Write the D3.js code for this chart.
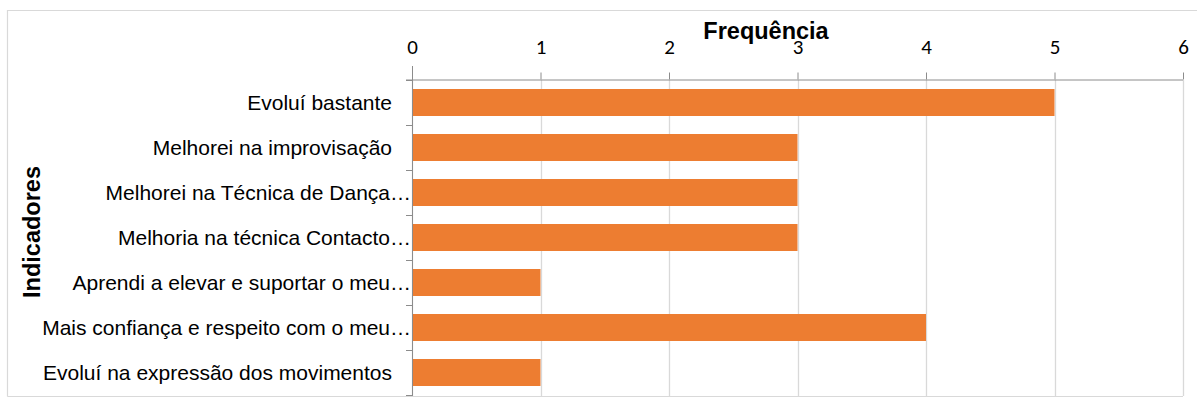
<!DOCTYPE html>
<html>
<head>
<meta charset="utf-8">
<script src="https://cdn.jsdelivr.net/npm/d3@7"></script>
<style>
  html, body { margin: 0; padding: 0; background: #fff; }
  svg { display: block; font-family: "Liberation Sans", Arial, sans-serif; }
</style>
</head>
<body>
<svg id="chart" width="1197" height="401"></svg>
<script>
// Indicators and how many times each was reported
const categories = [
  "Evoluí bastante",
  "Melhorei na improvisação",
  "Melhorei na Técnica de Dança…",
  "Melhoria na técnica Contacto…",
  "Aprendi a elevar e suportar o meu…",
  "Mais confiança e respeito com o meu…",
  "Evoluí na expressão dos movimentos"
];
const frequencies = [5, 3, 3, 3, 1, 4, 1];
const xTicks = [0, 1, 2, 3, 4, 5, 6];

const svg = d3.select("#chart");
const plotLeft = 412, plotRight = 1183, plotTop = 80, plotBottom = 395;

const x = d3.scaleLinear().domain([0, 6]).range([plotLeft, plotRight]);
const y = d3.scaleBand().domain(categories).range([plotTop, plotBottom]).paddingInner(0.4).paddingOuter(0.2);

// frame
svg.append("path")
  .attr("d", `M7.5,396.5 V10.5 H1197 M7.5,396.5 H${plotRight}`)
  .attr("fill", "none").attr("stroke", "#d9d9d9").attr("stroke-width", 1.2);

// vertical gridlines
svg.append("g").selectAll("line").data(xTicks).join("line")
  .attr("x1", d => Math.round(x(d)) + 0.5).attr("x2", d => Math.round(x(d)) + 0.5)
  .attr("y1", plotTop).attr("y2", plotBottom + 1)
  .attr("stroke", "#d9d9d9").attr("stroke-width", 1.3);

// bars
svg.append("g").selectAll("rect").data(categories).join("rect")
  .attr("x", x(0) + 1)
  .attr("y", d => y(d))
  .attr("width", (d, i) => x(frequencies[i]) - x(0) - 1)
  .attr("height", y.bandwidth())
  .attr("fill", "#ED7D31");

// top axis
const xAxis = svg.append("g").attr("transform", `translate(0,${plotTop - 0.5})`)
  .call(d3.axisTop(x).tickValues(xTicks).tickSize(7).tickPadding(19).tickFormat(d3.format("d")));
xAxis.select(".domain").attr("stroke", "#8c8c8c").attr("d", `M${plotLeft - 6},0.5H${plotRight}`);
xAxis.selectAll(".tick line").attr("stroke", "#8c8c8c");
xAxis.selectAll(".tick text").attr("font-size", 21).attr("fill", "#000")
  .attr("font-family", "Carlito, Lato, 'Liberation Sans', Arial, sans-serif");

// left axis with ticks at category boundaries
const boundaries = d3.range(categories.length + 1).map(i => plotTop + i * y.step());
svg.append("line")
  .attr("x1", plotLeft + 0.5).attr("x2", plotLeft + 0.5)
  .attr("y1", plotTop - 14).attr("y2", plotBottom + 1)
  .attr("stroke", "#8c8c8c");
svg.append("g").selectAll("line").data(boundaries).join("line")
  .attr("x1", plotLeft - 6).attr("x2", plotLeft)
  .attr("y1", d => Math.round(d) + 0.5).attr("y2", d => Math.round(d) + 0.5)
  .attr("stroke", "#8c8c8c");

// category labels
svg.append("g").selectAll("text").data(categories).join("text")
  .attr("x", d => d.endsWith("…") ? plotLeft - 1 : plotLeft - 20)
  .attr("y", d => y(d) + y.bandwidth() / 2)
  .attr("dy", "0.35em")
  .attr("text-anchor", "end")
  .attr("font-size", 21)
  .attr("fill", "#000")
  .text(d => d);

// axis titles
svg.append("text")
  .attr("x", 766).attr("y", 39)
  .attr("text-anchor", "middle")
  .attr("font-size", 23.5).attr("font-weight", "bold")
  .text("Frequência");

svg.append("text")
  .attr("transform", `translate(40,232) rotate(-90)`)
  .attr("text-anchor", "middle")
  .attr("font-size", 23.5).attr("font-weight", "bold")
  .text("Indicadores");
</script>
</body>
</html>
